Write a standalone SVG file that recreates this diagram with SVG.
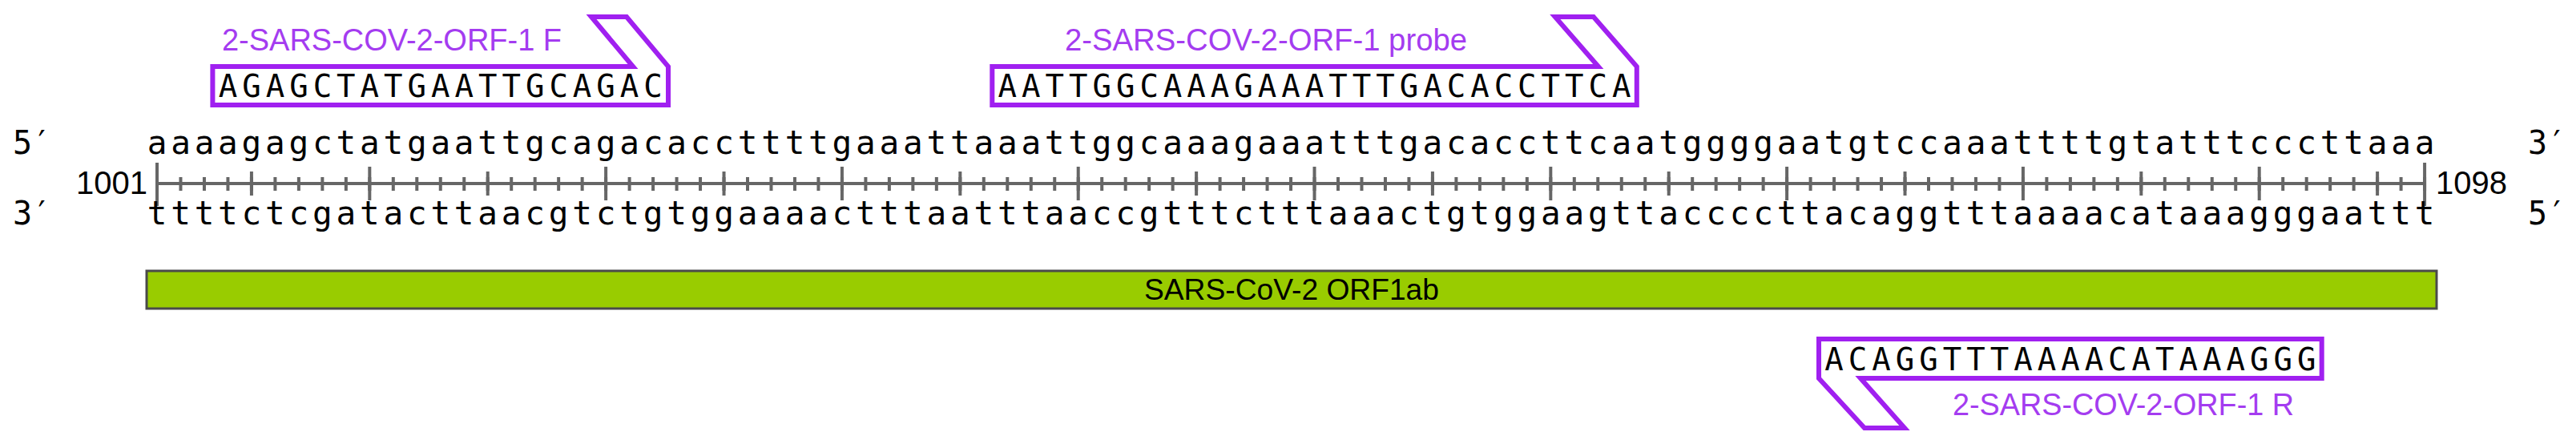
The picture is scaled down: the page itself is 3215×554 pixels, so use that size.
<svg xmlns="http://www.w3.org/2000/svg" width="3215" height="554" viewBox="0 0 3215 554">
<style>
.seq{font-family:"DejaVu Sans Mono","Liberation Mono",monospace;font-size:41px;fill:#000;text-anchor:middle}
.pseq{font-family:"DejaVu Sans Mono","Liberation Mono",monospace;font-size:39px;fill:#000;text-anchor:middle}
.end{font-family:"DejaVu Sans Mono","Liberation Mono",monospace;font-size:40px;fill:#000}
.num{font-family:"Liberation Sans",Arial,sans-serif;font-size:40px;fill:#000}
.plab{font-family:"Liberation Sans",Arial,sans-serif;font-size:39px;fill:#a43cf0}
.prim{fill:#fff;stroke:#a020f0;stroke-width:6;stroke-linejoin:miter}
.tick{stroke:#666;fill:none}
</style>
<rect width="3215" height="554" fill="#fff"/>
<g id="ends">
<text class="end" x="16" y="192">5′</text>
<text class="end" x="3155" y="192">3′</text>
<text class="end" x="16" y="280">3′</text>
<text class="end" x="3155" y="280">5′</text>
</g>
<g id="top-strand">
<text class="seq" y="192" x="196.0 225.5 255.0 284.4 313.9 343.4 372.9 402.4 431.8 461.3 490.8 520.3 549.8 579.2 608.7 638.2 667.7 697.2 726.6 756.1 785.6 815.1 844.6 874.0 903.5 933.0 962.5 992.0 1021.4 1050.9 1080.4 1109.9 1139.4 1168.8 1198.3 1227.8 1257.3 1286.8 1316.2 1345.7 1375.2 1404.7 1434.2 1463.6 1493.1 1522.6 1552.1 1581.6 1611.0 1640.5 1670.0 1699.5 1729.0 1758.4 1787.9 1817.4 1846.9 1876.4 1905.8 1935.3 1964.8 1994.3 2023.8 2053.2 2082.7 2112.2 2141.7 2171.2 2200.6 2230.1 2259.6 2289.1 2318.6 2348.0 2377.5 2407.0 2436.5 2466.0 2495.4 2524.9 2554.4 2583.9 2613.4 2642.8 2672.3 2701.8 2731.3 2760.8 2790.2 2819.7 2849.2 2878.7 2908.2 2937.6 2967.1 2996.6 3026.1">aaaagagctatgaattgcagacaccttttgaaattaaattggcaaagaaatttgacaccttcaatggggaatgtccaaattttgtatttcccttaaa</text>
</g>
<g id="ruler">
<line class="tick" x1="196" y1="229" x2="3026.1" y2="229" stroke-width="4"/>
<line class="tick" x1="194" y1="229.5" x2="3030" y2="229.5" stroke-width="17" stroke-dasharray="4 25.48"/>
<line class="tick" x1="311.92" y1="229" x2="2972" y2="229" stroke-width="30" stroke-dasharray="4 290.8"/>
<line class="tick" x1="459.32" y1="229" x2="2824" y2="229" stroke-width="42" stroke-dasharray="4 290.8"/>
<line class="tick" x1="196" y1="203" x2="196" y2="257" stroke-width="4"/>
<line class="tick" x1="3026.1" y1="203" x2="3026.1" y2="257" stroke-width="4"/>
<text class="num" x="184" y="242" text-anchor="end">1001</text>
<text class="num" x="3040" y="242">1098</text>
</g>
<g id="bottom-strand">
<text class="seq" y="280" x="196.0 225.5 255.0 284.4 313.9 343.4 372.9 402.4 431.8 461.3 490.8 520.3 549.8 579.2 608.7 638.2 667.7 697.2 726.6 756.1 785.6 815.1 844.6 874.0 903.5 933.0 962.5 992.0 1021.4 1050.9 1080.4 1109.9 1139.4 1168.8 1198.3 1227.8 1257.3 1286.8 1316.2 1345.7 1375.2 1404.7 1434.2 1463.6 1493.1 1522.6 1552.1 1581.6 1611.0 1640.5 1670.0 1699.5 1729.0 1758.4 1787.9 1817.4 1846.9 1876.4 1905.8 1935.3 1964.8 1994.3 2023.8 2053.2 2082.7 2112.2 2141.7 2171.2 2200.6 2230.1 2259.6 2289.1 2318.6 2348.0 2377.5 2407.0 2436.5 2466.0 2495.4 2524.9 2554.4 2583.9 2613.4 2642.8 2672.3 2701.8 2731.3 2760.8 2790.2 2819.7 2849.2 2878.7 2908.2 2937.6 2967.1 2996.6 3026.1">ttttctcgatacttaacgtctgtggaaaactttaatttaaccgtttctttaaactgtggaagttaccccttacaggtttaaaacataaagggaattt</text>
</g>
<g id="primer-F">
<path class="prim" d="M265.4,83 H790 L738,21 H782 L834,83 V131 H265.4 Z"/>
<text class="plab" x="277" y="63" textLength="424" lengthAdjust="spacingAndGlyphs">2-SARS-COV-2-ORF-1 F</text>
<text class="pseq" y="121" x="284.4 313.9 343.4 372.9 402.4 431.8 461.3 490.8 520.3 549.8 579.2 608.7 638.2 667.7 697.2 726.6 756.1 785.6 815.1">AGAGCTATGAATTGCAGAC</text>
</g>
<g id="probe">
<path class="prim" d="M1238.3,83 H1994.8 L1940.8,21 H1988.8 L2042.8,83 V131 H1238.3 Z"/>
<text class="plab" x="1329" y="63" textLength="502" lengthAdjust="spacingAndGlyphs">2-SARS-COV-2-ORF-1 probe</text>
<text class="pseq" y="121" x="1257.3 1286.8 1316.2 1345.7 1375.2 1404.7 1434.2 1463.6 1493.1 1522.6 1552.1 1581.6 1611.0 1640.5 1670.0 1699.5 1729.0 1758.4 1787.9 1817.4 1846.9 1876.4 1905.8 1935.3 1964.8 1994.3 2023.8">AATTGGCAAAGAAATTTGACACCTTCA</text>
</g>
<g id="feature-ORF1ab">
<rect x="183" y="338" width="2858" height="47" fill="#99cc00" stroke="#4a4a4a" stroke-width="3"/>
<text x="1612" y="374" text-anchor="middle" font-family="Liberation Sans, Arial, sans-serif" font-size="36" fill="#000" textLength="368" lengthAdjust="spacingAndGlyphs">SARS-CoV-2 ORF1ab</text>
</g>
<g id="primer-R">
<path class="prim" d="M2270,423 H2897.7 V472 H2322 L2377,534 H2327 L2270,472 Z"/>
<text class="pseq" y="462" x="2289.1 2318.6 2348.0 2377.5 2407.0 2436.5 2466.0 2495.4 2524.9 2554.4 2583.9 2613.4 2642.8 2672.3 2701.8 2731.3 2760.8 2790.2 2819.7 2849.2 2878.7">ACAGGTTTAAAACATAAAGGG</text>
<text class="plab" x="2437" y="518" textLength="426" lengthAdjust="spacingAndGlyphs">2-SARS-COV-2-ORF-1 R</text>
</g>
</svg>
